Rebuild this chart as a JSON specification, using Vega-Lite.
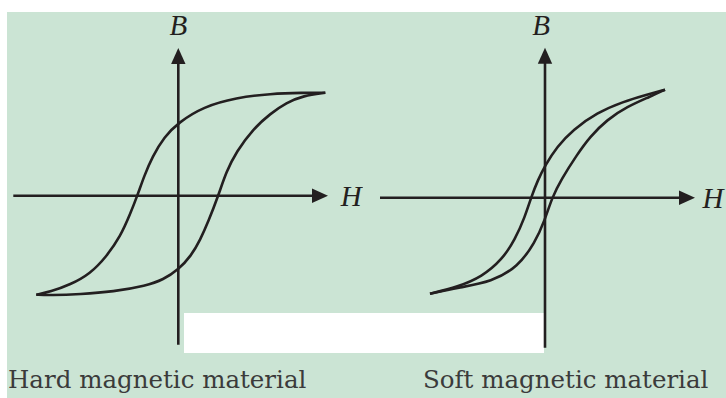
{
  "$schema": "https://vega.github.io/schema/vega-lite/v6.json",
  "background": "#ffffff",
  "padding": {"left": 7, "top": 12, "right": 0, "bottom": 0},
  "spacing": 0,
  "config": {"view": {"fill": "#cbe4d4", "stroke": null}},
  "datasets": {
    "loops": [
      {"material": "hard", "branch": "upper", "H": -14.2, "B": -9.9},
      {"material": "hard", "branch": "upper", "H": -12.8, "B": -9.6},
      {"material": "hard", "branch": "upper", "H": -10.8, "B": -8.9},
      {"material": "hard", "branch": "upper", "H": -8.8, "B": -7.8},
      {"material": "hard", "branch": "upper", "H": -7.2, "B": -6.1},
      {"material": "hard", "branch": "upper", "H": -5.8, "B": -4.1},
      {"material": "hard", "branch": "upper", "H": -4.8, "B": -1.8},
      {"material": "hard", "branch": "upper", "H": -4.1, "B": 0},
      {"material": "hard", "branch": "upper", "H": -3.4, "B": 2.0},
      {"material": "hard", "branch": "upper", "H": -2.6, "B": 3.9},
      {"material": "hard", "branch": "upper", "H": -1.4, "B": 5.9},
      {"material": "hard", "branch": "upper", "H": 0, "B": 7.3},
      {"material": "hard", "branch": "upper", "H": 2.5, "B": 8.9},
      {"material": "hard", "branch": "upper", "H": 5.8, "B": 9.8},
      {"material": "hard", "branch": "upper", "H": 9.2, "B": 10.2},
      {"material": "hard", "branch": "upper", "H": 12.5, "B": 10.3},
      {"material": "hard", "branch": "upper", "H": 14.7, "B": 10.3},
      {"material": "hard", "branch": "lower", "H": -14.2, "B": -9.9},
      {"material": "hard", "branch": "lower", "H": -12.8, "B": -9.95},
      {"material": "hard", "branch": "lower", "H": -9.8, "B": -9.85},
      {"material": "hard", "branch": "lower", "H": -6.5, "B": -9.6},
      {"material": "hard", "branch": "lower", "H": -3.2, "B": -9.0},
      {"material": "hard", "branch": "lower", "H": -1.5, "B": -8.4},
      {"material": "hard", "branch": "lower", "H": 0, "B": -7.4},
      {"material": "hard", "branch": "lower", "H": 1.3, "B": -6.0},
      {"material": "hard", "branch": "lower", "H": 2.2, "B": -4.4},
      {"material": "hard", "branch": "lower", "H": 3.0, "B": -2.6},
      {"material": "hard", "branch": "lower", "H": 4.0, "B": 0},
      {"material": "hard", "branch": "lower", "H": 4.8, "B": 2.4},
      {"material": "hard", "branch": "lower", "H": 5.8, "B": 4.4},
      {"material": "hard", "branch": "lower", "H": 7.5, "B": 6.7},
      {"material": "hard", "branch": "lower", "H": 9.2, "B": 8.2},
      {"material": "hard", "branch": "lower", "H": 10.8, "B": 9.3},
      {"material": "hard", "branch": "lower", "H": 12.5, "B": 10.0},
      {"material": "hard", "branch": "lower", "H": 14.7, "B": 10.3},
      {"material": "soft", "branch": "upper", "H": -11.5, "B": -9.6},
      {"material": "soft", "branch": "upper", "H": -8.7, "B": -8.9},
      {"material": "soft", "branch": "upper", "H": -6.3, "B": -7.9},
      {"material": "soft", "branch": "upper", "H": -4.3, "B": -6.2},
      {"material": "soft", "branch": "upper", "H": -3.0, "B": -4.2},
      {"material": "soft", "branch": "upper", "H": -2.0, "B": -1.9},
      {"material": "soft", "branch": "upper", "H": -1.4, "B": 0},
      {"material": "soft", "branch": "upper", "H": -0.7, "B": 1.8},
      {"material": "soft", "branch": "upper", "H": 0, "B": 3.2},
      {"material": "soft", "branch": "upper", "H": 1.2, "B": 5.1},
      {"material": "soft", "branch": "upper", "H": 2.8, "B": 6.8},
      {"material": "soft", "branch": "upper", "H": 5.2, "B": 8.5},
      {"material": "soft", "branch": "upper", "H": 7.8, "B": 9.6},
      {"material": "soft", "branch": "upper", "H": 10.2, "B": 10.3},
      {"material": "soft", "branch": "upper", "H": 12.0, "B": 10.8},
      {"material": "soft", "branch": "lower", "H": -11.5, "B": -9.6},
      {"material": "soft", "branch": "lower", "H": -8.7, "B": -9.0},
      {"material": "soft", "branch": "lower", "H": -5.3, "B": -8.4},
      {"material": "soft", "branch": "lower", "H": -2.7, "B": -6.9},
      {"material": "soft", "branch": "lower", "H": -1.0, "B": -4.5},
      {"material": "soft", "branch": "lower", "H": 0, "B": -2.2},
      {"material": "soft", "branch": "lower", "H": 0.7, "B": 0},
      {"material": "soft", "branch": "lower", "H": 1.6, "B": 1.8},
      {"material": "soft", "branch": "lower", "H": 3.2, "B": 4.3},
      {"material": "soft", "branch": "lower", "H": 4.5, "B": 6.1},
      {"material": "soft", "branch": "lower", "H": 6.2, "B": 7.8},
      {"material": "soft", "branch": "lower", "H": 8.2, "B": 9.1},
      {"material": "soft", "branch": "lower", "H": 10.5, "B": 10.1},
      {"material": "soft", "branch": "lower", "H": 12.0, "B": 10.8}
    ],
    "axes": [
      {"material": "hard", "axis": "H", "H": -16.5, "H2": 14.2, "B": 0, "B2": 0},
      {"material": "hard", "axis": "B", "H": 0, "H2": 0, "B": -14.9, "B2": 14.0},
      {"material": "soft", "axis": "H", "H": -16.5, "H2": 14.2, "B": 0, "B2": 0},
      {"material": "soft", "axis": "B", "H": 0, "H2": 0, "B": -15.0, "B2": 14.2}
    ],
    "arrows": [
      {"material": "hard", "dir": "right", "H": 14.17, "B": 0},
      {"material": "hard", "dir": "up", "H": 0, "B": 13.97},
      {"material": "soft", "dir": "right", "H": 14.2, "B": 0},
      {"material": "soft", "dir": "up", "H": 0, "B": 14.2}
    ],
    "symbols": [
      {"material": "hard", "label": "B", "H": 0, "B": 16.97},
      {"material": "hard", "label": "H", "H": 17.3, "B": -0.1},
      {"material": "soft", "label": "B", "H": -0.4, "B": 17.17},
      {"material": "soft", "label": "H", "H": 16.8, "B": -0.1}
    ],
    "captions": [
      {"material": "hard", "caption": "Hard magnetic material", "H": -17.03, "B": -19.23},
      {"material": "soft", "caption": "Soft magnetic material", "H": -12.2, "B": -19.03}
    ],
    "masks": [
      {"material": "hard", "H": 0.57, "H2": 18.47, "B": -11.73, "B2": -15.73},
      {"material": "soft", "H": -18.2, "H2": -0.1, "B": -11.53, "B2": -15.53}
    ]
  },
  "hconcat": [
    {
      "width": 356,
      "height": 386,
      "encoding": {
        "x": {"field": "H", "type": "quantitative", "axis": null, "scale": {"domain": [-17.13, 18.47], "nice": false, "zero": false}},
        "y": {"field": "B", "type": "quantitative", "axis": null, "scale": {"domain": [-20.23, 18.37], "nice": false, "zero": false}}
      },
      "layer": [
        {
          "data": {"name": "masks"},
          "transform": [{"filter": "datum.material === 'hard'"}],
          "mark": {"type": "rect", "fill": "#ffffff"},
          "encoding": {"x2": {"field": "H2"}, "y2": {"field": "B2"}}
        },
        {
          "data": {"name": "axes"},
          "transform": [{"filter": "datum.material === 'hard'"}],
          "mark": {"type": "rule", "color": "#231f20", "strokeWidth": 2.6},
          "encoding": {"x2": {"field": "H2"}, "y2": {"field": "B2"}}
        },
        {
          "data": {"name": "arrows"},
          "transform": [{"filter": "datum.material === 'hard'"}],
          "mark": {"type": "point", "filled": true, "color": "#231f20", "opacity": 1, "size": 256},
          "encoding": {
            "shape": {"field": "dir", "type": "nominal", "legend": null, "scale": {"domain": ["right", "up"], "range": ["M 1 0 L -1 -0.9 L -1 0.9 Z", "M 0 -1 L 0.9 1 L -0.9 1 Z"]}}
          }
        },
        {
          "data": {"name": "loops"},
          "transform": [{"filter": "datum.material === 'hard'"}],
          "mark": {"type": "line", "color": "#231f20", "strokeWidth": 2.6, "interpolate": "basis"},
          "encoding": {"detail": {"field": "branch"}}
        },
        {
          "data": {"name": "symbols"},
          "transform": [{"filter": "datum.material === 'hard'"}],
          "mark": {"type": "text", "font": "Liberation Serif", "fontStyle": "italic", "fontSize": 29, "color": "#231f20", "align": "center", "baseline": "middle", "clip": true},
          "encoding": {"text": {"field": "label"}}
        },
        {
          "data": {"name": "captions"},
          "transform": [{"filter": "datum.material === 'hard'"}],
          "mark": {"type": "text", "font": "DejaVu Serif", "fontSize": 24.5, "color": "#3b3b3b", "align": "left", "baseline": "alphabetic"},
          "encoding": {"text": {"field": "caption"}}
        }
      ]
    },
    {
      "width": 363,
      "height": 386,
      "encoding": {
        "x": {"field": "H", "type": "quantitative", "axis": null, "scale": {"domain": [-18.2, 18.1], "nice": false, "zero": false}},
        "y": {"field": "B", "type": "quantitative", "axis": null, "scale": {"domain": [-20.03, 18.57], "nice": false, "zero": false}}
      },
      "layer": [
        {
          "data": {"name": "masks"},
          "transform": [{"filter": "datum.material === 'soft'"}],
          "mark": {"type": "rect", "fill": "#ffffff"},
          "encoding": {"x2": {"field": "H2"}, "y2": {"field": "B2"}}
        },
        {
          "data": {"name": "axes"},
          "transform": [{"filter": "datum.material === 'soft'"}],
          "mark": {"type": "rule", "color": "#231f20", "strokeWidth": 2.6},
          "encoding": {"x2": {"field": "H2"}, "y2": {"field": "B2"}}
        },
        {
          "data": {"name": "arrows"},
          "transform": [{"filter": "datum.material === 'soft'"}],
          "mark": {"type": "point", "filled": true, "color": "#231f20", "opacity": 1, "size": 256},
          "encoding": {
            "shape": {"field": "dir", "type": "nominal", "legend": null, "scale": {"domain": ["right", "up"], "range": ["M 1 0 L -1 -0.9 L -1 0.9 Z", "M 0 -1 L 0.9 1 L -0.9 1 Z"]}}
          }
        },
        {
          "data": {"name": "loops"},
          "transform": [{"filter": "datum.material === 'soft'"}],
          "mark": {"type": "line", "color": "#231f20", "strokeWidth": 2.6, "interpolate": "basis"},
          "encoding": {"detail": {"field": "branch"}}
        },
        {
          "data": {"name": "symbols"},
          "transform": [{"filter": "datum.material === 'soft'"}],
          "mark": {"type": "text", "font": "Liberation Serif", "fontStyle": "italic", "fontSize": 29, "color": "#231f20", "align": "center", "baseline": "middle", "clip": true},
          "encoding": {"text": {"field": "label"}}
        },
        {
          "data": {"name": "captions"},
          "transform": [{"filter": "datum.material === 'soft'"}],
          "mark": {"type": "text", "font": "DejaVu Serif", "fontSize": 24.5, "color": "#3b3b3b", "align": "left", "baseline": "alphabetic"},
          "encoding": {"text": {"field": "caption"}}
        }
      ]
    }
  ]
}
